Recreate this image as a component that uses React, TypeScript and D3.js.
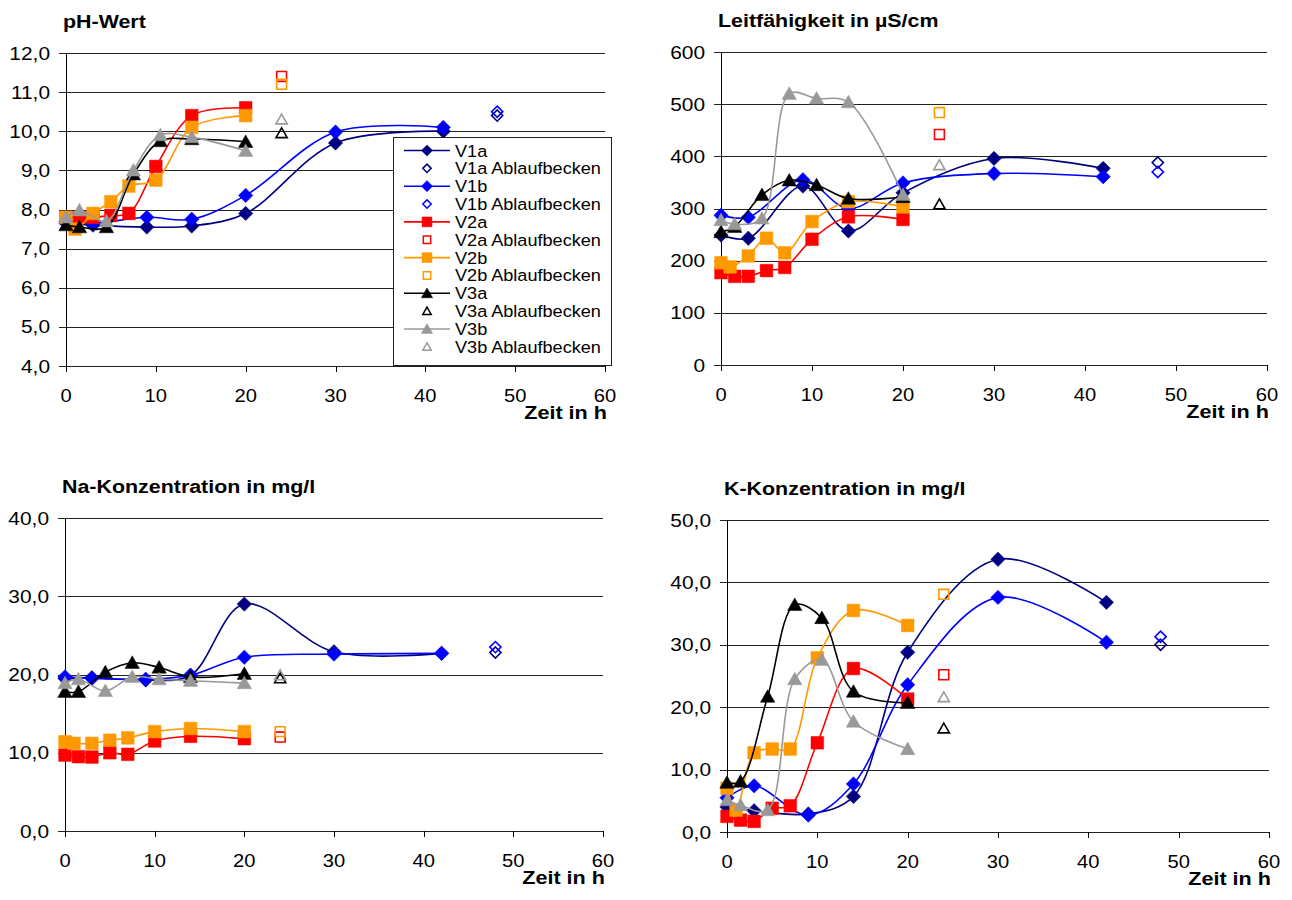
import React from 'react';
import * as d3 from 'd3';

// sampling times (h)
const tV1 = [0, 3, 9, 14, 20, 30, 42];
const tV2a = [0, 1.5, 3, 5, 7, 10, 14, 20];
const tV2b = [0, 1, 3, 5, 7, 10, 14, 20];
const tV3 = [0, 1.5, 4.5, 7.5, 10.5, 14, 20];
const tAblauf = [48, 48, 24, 24, 24, 24];

const seriesNames = ['V1a', 'V1b', 'V2a', 'V2b', 'V3a', 'V3b'];
const seriesColors = ['#000080', '#0000ff', '#ff0000', '#ff9900', '#000000', '#999999'];
const seriesShapes = ['diamond', 'diamond', 'square', 'square', 'triangle', 'triangle'];
const seriesTimes = [tV1, tV1, tV2a, tV2b, tV3, tV3];
const xTicks = [0, 10, 20, 30, 40, 50, 60];

// pH-Wert
const phV1a = [7.65, 7.6, 7.55, 7.58, 7.9, 9.7, 10.0];
const phV1b = [7.7, 7.65, 7.8, 7.75, 8.36, 9.98, 10.1];
const phV2a = [7.8, 7.8, 7.8, 7.85, 7.9, 9.1, 10.4, 10.6];
const phV2b = [7.8, 7.5, 7.9, 8.2, 8.6, 8.75, 10.1, 10.4];
const phV3a = [7.6, 7.55, 7.55, 8.9, 9.75, 9.8, 9.73];
const phV3b = [7.8, 7.98, 7.7, 9.0, 9.9, 9.85, 9.5];
const phAblauf = [10.4, 10.5, 11.4, 11.2, 9.95, 10.3];

// Leitfähigkeit
const lfV1a = [249, 243, 343, 257, 330, 396, 377];
const lfV1b = [287, 283, 355, 300, 349, 367, 361];
const lfV2a = [177, 170, 170, 181, 187, 241, 284, 279];
const lfV2b = [196, 188, 209, 243, 215, 275, 313, 303];
const lfV3a = [255, 265, 326, 354, 345, 319, 322];
const lfV3b = [278, 270, 281, 520, 511, 504, 326];
const lfAblauf = [388, 370, 442, 484, 308, 383];

// Na
const naV1a = [19.5, 19.6, 19.3, 19.9, 29.0, 22.9, 22.7];
const naV1b = [19.7, 19.5, 19.4, 19.9, 22.2, 22.6, 22.7];
const naV2a = [9.7, 9.5, 9.45, 10.0, 9.8, 11.5, 12.1, 11.8];
const naV2b = [11.4, 11.2, 11.2, 11.6, 11.9, 12.7, 13.1, 12.7];
const naV3a = [17.8, 17.8, 20.3, 21.5, 20.9, 19.7, 20.1];
const naV3b = [18.9, 19.4, 17.9, 19.7, 19.4, 19.2, 18.9];
const naAblauf = [22.8, 23.5, 12.0, 12.7, 19.5, 19.9];

// K
const kV1a = [4.0, 3.4, 2.9, 5.7, 28.8, 43.7, 36.8];
const kV1b = [5.5, 7.4, 2.7, 7.7, 23.6, 37.6, 30.4];
const kV2a = [2.5, 1.9, 1.7, 3.8, 4.2, 14.3, 26.2, 21.3];
const kV2b = [7.0, 3.5, 12.7, 13.3, 13.3, 27.9, 35.5, 33.1];
const kV3a = [7.9, 8.1, 21.7, 36.4, 34.3, 22.5, 20.7];
const kV3b = [5.1, 4.3, 3.5, 24.5, 27.6, 17.7, 13.3];
const kAblauf = [30.0, 31.3, 25.2, 38.1, 16.6, 21.6];

const FONT = 'Liberation Sans, Arial, sans-serif';
const comma1 = (v: number) => d3.format('.1f')(v).replace('.', ',');
const int0 = (v: number) => d3.format('d')(v);

const markerPath = (shape: string, s: number) => {
  if (shape === 'diamond') return `M0,${-s}L${s},0L0,${s}L${-s},0Z`;
  if (shape === 'square') { const r = s * 0.88; return `M${-r},${-r}h${2 * r}v${2 * r}h${-2 * r}Z`; }
  const w = s * 1.0, h = s * 1.75;
  return `M0,${-h * 0.55}L${w},${h * 0.45}L${-w},${h * 0.45}Z`;
};

const SText = ({ x, y, children, anchor = 'start', bold = false, size = 18, sx = 1.16 }: any) => (
  <text transform={`translate(${x},${y}) scale(${sx},1)`} textAnchor={anchor}
    fontFamily={FONT} fontSize={size} fontWeight={bold ? 'bold' : 'normal'} fill="#000">{children}</text>
);

const Panel = ({ box, yMax, yStep, fmt, title, values, ablauf }: any) => {
  const x = d3.scaleLinear().domain([0, 60]).range([box.left, box.right]);
  const y = d3.scaleLinear().domain([box.yMin, yMax]).range([box.bottom, box.top]);
  const yTicks = d3.range(box.yMin, yMax + yStep / 2, yStep);
  const line = d3.line<[number, number]>().x(d => x(d[0])).y(d => y(d[1])).curve(d3.curveCatmullRom.alpha(0.5));
  return (
    <g>
      <SText x={box.left - 3} y={box.top - 25} bold sx={1.19}>{title}</SText>
      {yTicks.map((t: number) => (
        <g key={t}>
          <line x1={box.left - 7} x2={box.right} y1={Math.round(y(t)) + 0.5} y2={Math.round(y(t)) + 0.5} stroke="#222" strokeWidth={1} />
          <SText x={box.left - 16} y={y(t) + 6.5} anchor="end">{fmt(t)}</SText>
        </g>
      ))}
      <line x1={Math.round(box.left) + 0.5} x2={Math.round(box.left) + 0.5} y1={box.top} y2={box.bottom} stroke="#000" />
      {xTicks.map(t => (
        <g key={t}>
          <line x1={Math.round(x(t)) + 0.5} x2={Math.round(x(t)) + 0.5} y1={box.bottom} y2={box.bottom + 6} stroke="#000" />
          <SText x={x(t)} y={box.bottom + 36} anchor="middle" sx={1.12}>{t}</SText>
        </g>
      ))}
      <SText x={box.right + 2} y={box.bottom + 53} anchor="end" bold sx={1.2}>Zeit in h</SText>
      {seriesNames.map((name, i) => {
        const pts: [number, number][] = seriesTimes[i].map((t, j) => [t, values[i][j]]);
        const c = seriesColors[i];
        return (
          <g key={name}>
            <path d={line(pts) || ''} fill="none" stroke={c} strokeWidth={1.6} />
            {pts.map((p, j) => (
              <path key={j} d={markerPath(seriesShapes[i], 7.2)} transform={`translate(${x(p[0])},${y(p[1])})`} fill={c} stroke={c} strokeWidth={0.5} />
            ))}
          </g>
        );
      })}
      {seriesNames.map((name, i) => (
        <path key={name} d={markerPath(seriesShapes[i], 5.6)} transform={`translate(${x(tAblauf[i])},${y(ablauf[i])})`}
          fill="none" stroke={seriesColors[i]} strokeWidth={1.6} />
      ))}
    </g>
  );
};

const Legend = ({ x0, y0, w, h }: any) => {
  const rows: any[] = [];
  seriesNames.forEach((n, i) => {
    rows.push({ label: n, i, filled: true });
    rows.push({ label: `${n} Ablaufbecken`, i, filled: false });
  });
  return (
    <g>
      <rect x={x0 + 0.5} y={y0 + 0.5} width={w} height={h} fill="#fff" stroke="#222" />
      {rows.map((r, k) => {
        const cy = y0 + 13.5 + k * 17.85;
        const c = seriesColors[r.i];
        return (
          <g key={k}>
            {r.filled && <line x1={x0 + 11} x2={x0 + 57} y1={cy} y2={cy} stroke={c} strokeWidth={1.6} />}
            <path d={markerPath(seriesShapes[r.i], r.filled ? 5.6 : 4.2)} transform={`translate(${x0 + 34},${cy})`}
              fill={r.filled ? c : 'none'} stroke={c} strokeWidth={r.filled ? 0.5 : 1.5} />
            <SText x={x0 + 62} y={cy + 6} size={17} sx={1.065}>{r.label}</SText>
          </g>
        );
      })}
    </g>
  );
};

export default function App() {
  return (
    <svg width={1292} height={900} style={{ position: 'absolute', left: 0, top: 0, background: '#fff' }}>
      <rect width={1292} height={900} fill="#fff" />
      <Panel box={{ left: 66, right: 605, top: 53, bottom: 366, yMin: 4 }} yMax={12} yStep={1} fmt={comma1}
        title="pH-Wert" values={[phV1a, phV1b, phV2a, phV2b, phV3a, phV3b]} ablauf={phAblauf} />
      <Legend x0={393} y0={137} w={218} h={228} />
      <Panel box={{ left: 721, right: 1267, top: 52, bottom: 365, yMin: 0 }} yMax={600} yStep={100} fmt={int0}
        title="Leitfähigkeit in µS/cm" values={[lfV1a, lfV1b, lfV2a, lfV2b, lfV3a, lfV3b]} ablauf={lfAblauf} />
      <Panel box={{ left: 65, right: 603, top: 518, bottom: 831, yMin: 0 }} yMax={40} yStep={10} fmt={comma1}
        title="Na-Konzentration in mg/l" values={[naV1a, naV1b, naV2a, naV2b, naV3a, naV3b]} ablauf={naAblauf} />
      <Panel box={{ left: 727, right: 1269, top: 520, bottom: 832, yMin: 0 }} yMax={50} yStep={10} fmt={comma1}
        title="K-Konzentration in mg/l" values={[kV1a, kV1b, kV2a, kV2b, kV3a, kV3b]} ablauf={kAblauf} />
    </svg>
  );
}
